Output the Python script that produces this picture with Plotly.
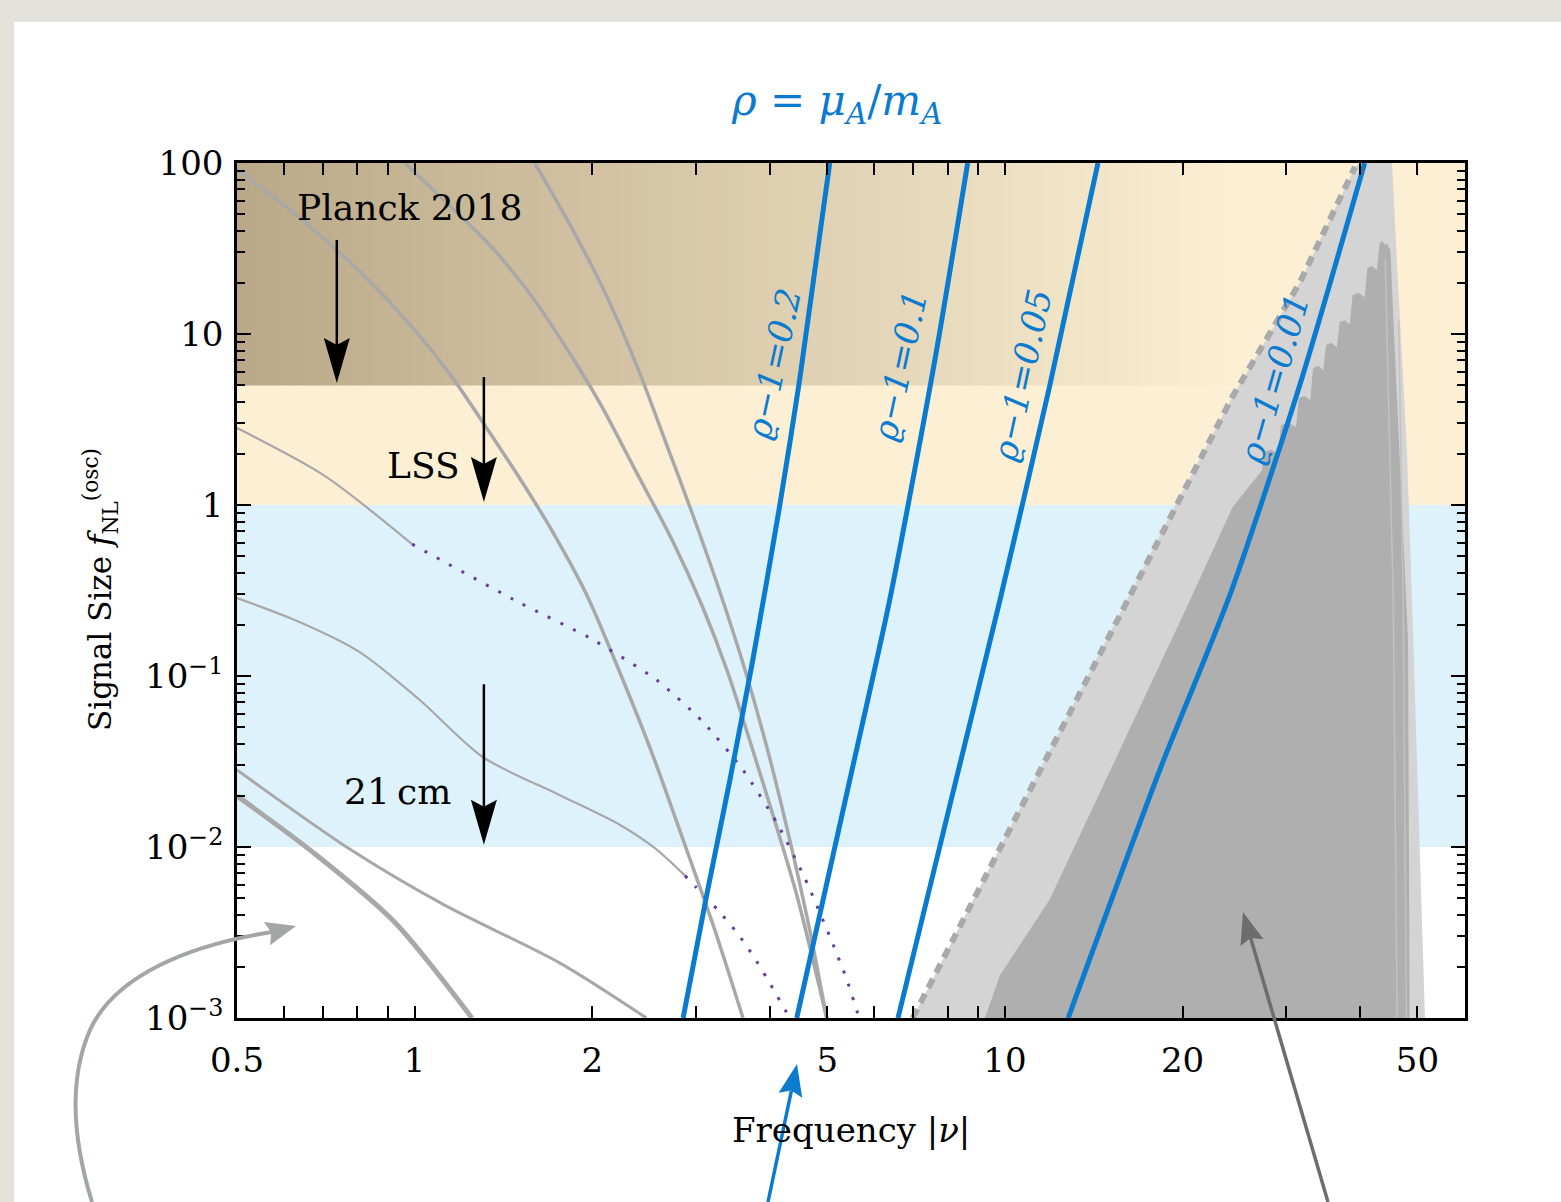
import math
import plotly.graph_objects as go

# ---------------- data ----------------
FREQ_MIN, FREQ_MAX = 0.5, 60.2
SIG_MIN, SIG_MAX = 1e-3, 100.0

# constraint bands on the signal size
band_21cm = (0.01, 1.0)
band_lss = (1.0, 100.0)
band_planck = (5.0, 100.0)

# gray model curves
g1_x = [0.5, 0.651, 0.842, 1.0, 1.151, 1.324, 1.513, 1.714, 1.957, 2.225, 2.531, 2.89, 3.225, 3.6]
g1_y = [92, 45.2, 20.1, 10.55, 5.75, 2.82, 1.40, 0.695, 0.298, 0.1055, 0.0345, 0.0096, 0.00327, 0.001]
g2_x = [0.962, 1.124, 1.345, 1.573, 1.816, 2.059, 2.388, 2.73, 3.065, 3.39, 3.73, 4.06, 4.44, 4.99]
g2_y = [100, 60, 32.7, 16.9, 8.06, 3.95, 1.50, 0.624, 0.260, 0.1055, 0.0379, 0.0148, 0.00524, 0.001]
g3_x = [1.597, 1.838, 2.099, 2.387, 2.674, 2.96, 3.29, 3.63, 3.97, 4.32, 4.67, 4.99]
g3_y = [100, 42.8, 17.6, 6.33, 2.24, 0.874, 0.310, 0.108, 0.036, 0.011, 0.00327, 0.001]
t1_x = [0.5, 0.70, 0.99]
t1_y = [2.82, 1.5, 0.59]
t1_dot_x = [0.99, 1.51, 1.98, 2.57, 3.08, 3.60, 4.11, 4.58, 5.05, 5.40, 5.63, 5.68]
t1_dot_y = [0.59, 0.267, 0.167, 0.0948, 0.0538, 0.0282, 0.0138, 0.0066, 0.0030, 0.00167, 0.00107, 0.001]
t2_x = [0.5, 0.638, 0.807, 1.02, 1.304, 1.762, 2.225, 2.55, 2.87]
t2_y = [0.286, 0.207, 0.138, 0.0724, 0.0336, 0.0201, 0.0135, 0.00987, 0.0068]
t2_dot_x = [2.87, 3.0, 3.26, 3.53, 3.78, 4.04, 4.30, 4.33]
t2_dot_y = [0.0068, 0.0058, 0.0043, 0.0031, 0.0022, 0.0015, 0.00103, 0.001]
c3_x = [0.5, 0.77, 1.12, 1.76, 2.47]
c3_y = [0.0282, 0.0099, 0.0046, 0.0021, 0.001]
c4_x = [0.5, 0.67, 0.92, 1.25]
c4_y = [0.0199, 0.0094, 0.0037, 0.001]

# blue rho lines
rho_labels = ["ϱ−1=0.2", "ϱ−1=0.1", "ϱ−1=0.05", "ϱ−1=0.01"]
rho02_x = [2.85, 3.13, 3.42, 3.74, 4.15, 4.49, 5.05]
rho02_y = [0.001, 0.0054, 0.0246, 0.124, 0.97, 5.4, 100]
rho01_x = [4.44, 5.46, 6.38, 7.61, 8.65]
rho01_y = [0.001, 0.0246, 0.278, 7.05, 100]
rho005_x = [6.59, 8.07, 9.81, 11.92, 14.38]
rho005_y = [0.001, 0.0176, 0.278, 5.03, 100]
rho001_x = [12.8, 18.3, 24.06, 31.6, 40.7]
rho001_y = [0.001, 0.0282, 0.298, 5.03, 100]
label_x = [4.06, 6.64, 10.7, 28.6]
label_y = [6.77, 6.6, 5.76, 5.53]

# shaded regions at high frequency
dash_x = [6.98, 15.1, 19.3, 24.3, 31.6, 39.2]
dash_y = [0.001, 0.18, 0.95, 4.3, 20, 95]
light_x = [6.98, 15.1, 19.3, 24.3, 31.6, 39.2, 40.0, 45.3, 46.2, 48.0, 49.2, 51.5]
light_y = [0.001, 0.18, 0.95, 4.3, 20, 95, 100, 100, 24.6, 2.1, 0.162, 0.001]
# dark region: smooth lower-left edge, scalloped steps, then right edge
dark_low_x = [9.25, 9.81, 11.9, 14.5, 20.6, 24.3, 27.3]
dark_low_y = [0.001, 0.00178, 0.0049, 0.021, 0.278, 0.97, 1.6]
step_x = [27.3, 29.2, 31.3, 33.1, 34.8, 36.7, 38.6, 40.9, 42.9]
step_y = [2.04, 2.94, 4.22, 6.33, 8.62, 11.7, 16.9, 24.3, 34.0]
dark_right_x = [44.3, 45.0, 45.5, 48.2, 48.5]
dark_right_y = [34.0, 31, 12.6, 0.162, 0.001]
streak_a_x = [44.1, 45.5, 46.2]
streak_a_y = [27, 0.278, 0.001]
streak_b_x = [46.5, 47.3, 47.9]
streak_b_y = [12, 0.278, 0.001]

# constraint labels and arrows (data coords)
constraint_names = ["Planck 2018", "LSS", "21\u2009cm"]
constraint_label_x = [0.98, 1.036, 0.936]
constraint_label_y = [55, 1.71, 0.021]
arrow_x = [0.738, 1.31, 1.31]
arrow_tail_y = [35.5, 5.6, 0.0895]
arrow_tip_y = [5.17, 1.04, 0.0103]

x_ticks = [0.5, 1, 2, 5, 10, 20, 50]
x_ticktext = ["0.5", "1", "2", "5", "10", "20", "50"]
x_minor = [0.6, 0.7, 0.8, 0.9, 3, 4, 6, 7, 8, 9, 30, 40]
y_ticks = [1e-3, 1e-2, 1e-1, 1, 10, 100]
y_ticktext = ["10<sup>−3</sup>", "10<sup>−2</sup>", "10<sup>−1</sup>", "1", "10", "100"]
y_minor = [m * 10 ** e for e in range(-3, 2) for m in range(2, 10)]

# ---------------- styling ----------------
FONT = "DejaVu Serif"
BLUE = "#0b7bcf"
GRAY = "#a8a8a8"
PURPLE = "#6b3d9a"
CREAM = (252, 239, 212)
DARK = (186, 169, 135)
SKY = "#def2fb"

W, H = 1561, 1202
PL, PT, PW, PH = 237, 163, 1228, 855


def pxp(x):
    return (x - PL) / PW


def pyp(y):
    return (PT + PH - y) / PH


def pt(p):
    return "%.5f,%.5f" % (pxp(p[0]), pyp(p[1]))


# build the scalloped dark outline from the step tops
dark_x = list(dark_low_x)
dark_y = list(dark_low_y)
for i, (sx, sy) in enumerate(zip(step_x, step_y)):
    nxt = step_x[i + 1] if i + 1 < len(step_x) else dark_right_x[0]
    dark_x += [sx * 1.002, sx * 1.006, (sx + nxt) / 2, nxt * 0.995]
    dark_y += [sy * 0.88, sy, sy * 1.03, sy * 0.97]
dark_x += dark_right_x
dark_y += dark_right_y

fig = go.Figure()

# ---- fills ----
fig.add_trace(go.Scatter(x=light_x, y=light_y, fill="toself", fillcolor="#d4d4d4",
                         line=dict(width=0), mode="lines", hoverinfo="skip"))
fig.add_trace(go.Scatter(x=dark_x, y=dark_y, fill="toself", fillcolor="#afafaf",
                         line=dict(width=0), mode="lines", hoverinfo="skip"))
for sx, sy in [(streak_a_x, streak_a_y), (streak_b_x, streak_b_y)]:
    fig.add_trace(go.Scatter(x=sx, y=sy, mode="lines", line=dict(color="#c2c2c2", width=1.5),
                             hoverinfo="skip"))

# ---- gray curves ----
for cx, cy, wdt in [(g1_x, g1_y, 3.5), (g2_x, g2_y, 3.5), (g3_x, g3_y, 3.5),
                    (t1_x, t1_y, 2.2), (t2_x, t2_y, 2.2), (c3_x, c3_y, 3), (c4_x, c4_y, 5)]:
    fig.add_trace(go.Scatter(x=cx, y=cy, mode="lines",
                             line=dict(color=GRAY, width=wdt, shape="spline", smoothing=0.8),
                             hoverinfo="skip"))
for cx, cy in [(t1_dot_x, t1_dot_y), (t2_dot_x, t2_dot_y)]:
    fig.add_trace(go.Scatter(x=cx, y=cy, mode="lines",
                             line=dict(color=PURPLE, width=3, dash="3px,11px", shape="spline",
                                       smoothing=0.6),
                             hoverinfo="skip"))

# dashed boundary
fig.add_trace(go.Scatter(x=dash_x, y=dash_y, mode="lines",
                         line=dict(color="#a9a9a9", width=6, dash="10px,7px"), hoverinfo="skip"))

# ---- blue lines ----
for bx, by in [(rho02_x, rho02_y), (rho01_x, rho01_y), (rho005_x, rho005_y), (rho001_x, rho001_y)]:
    fig.add_trace(go.Scatter(x=bx, y=by, mode="lines",
                             line=dict(color=BLUE, width=5, shape="spline", smoothing=0.7),
                             hoverinfo="skip"))

shapes = []
# page border texture
shapes.append(dict(type="rect", xref="paper", yref="paper", x0=pxp(0), x1=pxp(14), y0=pyp(H), y1=pyp(0),
                   fillcolor="#e3e1dc", line=dict(width=0), layer="below"))
shapes.append(dict(type="rect", xref="paper", yref="paper", x0=pxp(0), x1=pxp(W), y0=pyp(22), y1=pyp(0),
                   fillcolor="#e3e1dc", line=dict(width=0), layer="below"))

# bands
shapes.append(dict(type="rect", xref="x", yref="y", x0=FREQ_MIN, x1=FREQ_MAX, y0=band_21cm[0],
                   y1=band_21cm[1], fillcolor=SKY, line=dict(width=0), layer="below"))
shapes.append(dict(type="rect", xref="x", yref="y", x0=FREQ_MIN, x1=FREQ_MAX, y0=band_lss[0],
                   y1=band_lss[1], fillcolor="rgb(%d,%d,%d)" % CREAM, line=dict(width=0), layer="below"))
# Planck gradient band
N = 90
lx0, lx1 = math.log10(FREQ_MIN), math.log10(FREQ_MAX)
lend = math.log10(25)
for i in range(N):
    a = lx0 + (lx1 - lx0) * i / N
    b = lx0 + (lx1 - lx0) * (i + 1) / N
    t = min(1.0, max(0.0, ((a + b) / 2 - lx0) / (lend - lx0)))
    col = tuple(round(DARK[k] + (CREAM[k] - DARK[k]) * t) for k in range(3))
    shapes.append(dict(type="rect", xref="x", yref="y", x0=10 ** a, x1=10 ** (b + 0.002),
                       y0=band_planck[0], y1=band_planck[1],
                       fillcolor="rgb(%d,%d,%d)" % col, line=dict(width=0), layer="below"))

# black constraint arrows (shaft + pixel-sized head anchored at tip)
for ax_, ty, hy in zip(arrow_x, arrow_tail_y, arrow_tip_y):
    shapes.append(dict(type="line", xref="x", yref="y", x0=ax_, x1=ax_, y0=ty,
                       y1=hy * 10 ** (30 / 171), line=dict(color="black", width=2.5), layer="above"))
    shapes.append(dict(type="path", xref="x", yref="y", xsizemode="pixel", ysizemode="pixel",
                       xanchor=ax_, yanchor=hy, path="M0,0 L-13,45 L0,38 L13,45 Z",
                       fillcolor="black", line=dict(width=0), layer="above"))


def head(tip, tail, length, width):
    dx, dy = tip[0] - tail[0], tip[1] - tail[1]
    n = math.hypot(dx, dy)
    ux, uy = dx / n, dy / n
    bx, by = tip[0] - ux * length, tip[1] - uy * length
    nx, ny = -uy, ux
    p1 = (bx + nx * width / 2, by + ny * width / 2)
    p2 = (bx - nx * width / 2, by - ny * width / 2)
    pm = (tip[0] - ux * length * 0.85, tip[1] - uy * length * 0.85)
    return "M " + " L ".join(pt(p) for p in [tip, p1, pm, p2]) + " Z", pm


# outside pointer arrows
gray_curve = ("M " + pt((92, 1202)) + " C " + pt((76, 1150)) + " " + pt((66, 1085)) + " " + pt((90, 1030))
              + " C " + pt((115, 975)) + " " + pt((190, 945)) + " " + pt((272, 932)))
shapes.append(dict(type="path", xref="paper", yref="paper", path=gray_curve,
                   line=dict(color="#a2a6a5", width=4), layer="above"))
hp, _ = head((296, 926), (250, 938), 30, 24)
shapes.append(dict(type="path", xref="paper", yref="paper", path=hp, fillcolor="#a2a6a5",
                   line=dict(width=0), layer="above"))

for tail, tip, col in [((768, 1202), (797, 1064), BLUE), ((1328, 1202), (1243, 912), "#6d6d6d")]:
    hp, pm = head(tip, tail, 32, 24)
    shapes.append(dict(type="line", xref="paper", yref="paper", x0=pxp(tail[0]), y0=pyp(tail[1]),
                       x1=pxp(pm[0]), y1=pyp(pm[1]), line=dict(color=col, width=3.5), layer="above"))
    shapes.append(dict(type="path", xref="paper", yref="paper", path=hp, fillcolor=col,
                       line=dict(width=0), layer="above"))

annotations = []
for txt, lx, ly in zip(constraint_names, constraint_label_x, constraint_label_y):
    annotations.append(dict(x=math.log10(lx), y=math.log10(ly), xref="x", yref="y", text=txt,
                            showarrow=False, font=dict(family=FONT, size=36, color="black")))
angles = [-78, -78, -78, -74]
for txt, lx, ly, ang in zip(rho_labels, label_x, label_y, angles):
    annotations.append(dict(x=math.log10(lx), y=math.log10(ly), xref="x", yref="y",
                            text="<i>" + txt + "</i>", textangle=ang, showarrow=False,
                            font=dict(family=FONT, size=34, color=BLUE)))
annotations.append(dict(x=pxp(836), y=pyp(103), xref="paper", yref="paper", showarrow=False,
                        xanchor="center", yanchor="middle",
                        text="<i>ρ</i> = <i>μ</i><sub><i>A</i></sub>/<i>m</i><sub><i>A</i></sub>",
                        font=dict(family=FONT, size=42, color=BLUE)))
annotations.append(dict(x=pxp(851), y=pyp(1130), xref="paper", yref="paper", showarrow=False,
                        xanchor="center", yanchor="middle",
                        text="Frequency |<i>ν</i>|", font=dict(family=FONT, size=34, color="black")))
annotations.append(dict(x=pxp(100), y=pyp(590), xref="paper", yref="paper", showarrow=False,
                        xanchor="center", yanchor="middle", textangle=-90,
                        text="Signal Size <i>f</i><sub>NL</sub><sup>(osc)</sup>",
                        font=dict(family=FONT, size=31, color="black")))

fig.update_layout(
    width=W, height=H,
    margin=dict(l=PL, r=W - PL - PW, t=PT, b=H - PT - PH),
    paper_bgcolor="white", plot_bgcolor="white",
    showlegend=False,
    shapes=shapes, annotations=annotations,
    xaxis=dict(type="log", range=[math.log10(FREQ_MIN), math.log10(FREQ_MAX)],
               showline=True, linecolor="black", linewidth=2.5, mirror="allticks",
               ticks="inside", ticklen=12, tickwidth=2, tickcolor="black",
               tickvals=x_ticks, ticktext=x_ticktext, ticklabelstandoff=10,
               tickfont=dict(family=FONT, size=34, color="black"),
               minor=dict(tickvals=x_minor, ticks="inside", ticklen=12, tickwidth=2, tickcolor="black"),
               showgrid=False, zeroline=False),
    yaxis=dict(type="log", range=[math.log10(SIG_MIN), math.log10(SIG_MAX)],
               showline=True, linecolor="black", linewidth=2.5, mirror="allticks",
               ticks="inside", ticklen=14, tickwidth=2, tickcolor="black",
               tickvals=y_ticks, ticktext=y_ticktext, ticklabelstandoff=4,
               tickfont=dict(family=FONT, size=34, color="black"),
               minor=dict(tickvals=y_minor, ticks="inside", ticklen=8, tickwidth=2, tickcolor="black"),
               showgrid=False, zeroline=False),
)

fig.write_html("out.html", config={"displayModeBar": False},
               post_script="document.body.style.margin='0px';")
